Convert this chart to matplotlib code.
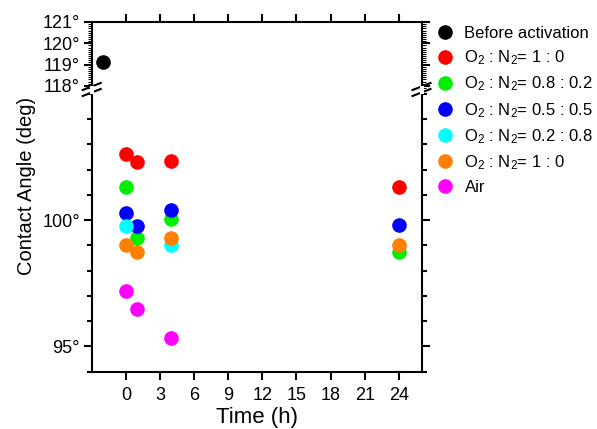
import matplotlib
matplotlib.use('Agg')
import matplotlib.pyplot as plt
from matplotlib.ticker import MultipleLocator, FixedLocator
import numpy as np

plt.rcParams['font.family'] = ['Liberation Sans', 'DejaVu Sans']
plt.rcParams['mathtext.default'] = 'regular'

# data
t_before = [-2]
a_before = [119.1]

series_names = ['O$_2$ : N$_2$= 1 : 0', 'O$_2$ : N$_2$= 0.8 : 0.2', 'O$_2$ : N$_2$= 0.5 : 0.5',
                'O$_2$ : N$_2$= 0.2 : 0.8', 'O$_2$ : N$_2$= 1 : 0', 'Air']
series_colors = ['#ff0000', '#00ee00', '#0000ff', '#00ffff', '#ff8000', '#ff00ff']
t_red = [0, 1, 4, 24]
a_red = [102.6, 102.3, 102.35, 101.3]
t_green = [0, 1, 4, 24]
a_green = [101.3, 99.3, 100.05, 98.75]
t_blue = [0, 1, 4, 24]
a_blue = [100.3, 99.75, 100.4, 99.8]
t_cyan = [0, 4]
a_cyan = [99.75, 99.0]
t_orange = [0, 1, 4, 24]
a_orange = [99.0, 98.75, 99.3, 99.0]
t_air = [0, 1, 4]
a_air = [97.2, 96.5, 95.35]

series_t = [t_red, t_green, t_blue, t_cyan, t_orange, t_air]
series_a = [a_red, a_green, a_blue, a_cyan, a_orange, a_air]

x_ticks = np.arange(0, 25, 3)
top_yticks = [118, 119, 120, 121]
bot_yticks = [95, 100]

W, H = 597, 429
fig = plt.figure(figsize=(W / 100, H / 100), dpi=100)
left = 91.7 / W
width = (421.5 - 91.7) / W
ax_top = fig.add_axes([left, 1 - 88 / H, width, 66 / H])
ax_bot = fig.add_axes([left, 1 - 371.7 / H, width, 281.7 / H])

lw = 1.5
ms = 9.5
deg = lambda v, p: '%d\u00b0' % round(v)
for ax in (ax_top, ax_bot):
    for s in ax.spines.values():
        s.set_linewidth(lw)
    ax.set_xlim(-3, 26)
    ax.set_xticks(x_ticks)
    ax.tick_params(which='both', direction='out', width=lw, labelsize=13)
    ax.tick_params(which='major', length=6)
    ax.tick_params(which='minor', length=3.5)
    ax.tick_params(axis='y', which='both', right=True, labelright=False, pad=2.5)
    ax.tick_params(axis='x', pad=5)

# top panel
ax_top.spines['bottom'].set_visible(False)
ax_top.set_ylim(117.9, 121)
ax_top.yaxis.set_major_locator(FixedLocator(top_yticks))
ax_top.yaxis.set_minor_locator(MultipleLocator(0.1))
ax_top.yaxis.set_major_formatter(deg)
ax_top.tick_params(axis='x', top=True, bottom=False, labelbottom=False)
ax_top.tick_params(axis='y', which='minor', length=3, width=0.75)
h_before, = ax_top.plot(t_before, a_before, 'o', color='black', ms=ms, label='Before activation', clip_on=False)

# bottom panel
ax_bot.spines['top'].set_visible(False)
ax_bot.set_ylim(94, 105.15)
ax_bot.yaxis.set_major_locator(FixedLocator(bot_yticks))
ax_bot.yaxis.set_minor_locator(MultipleLocator(1))
ax_bot.yaxis.set_major_formatter(deg)
ax_bot.tick_params(axis='x', top=False)
handles = [h_before]
for name, col, t, a in zip(series_names, series_colors, series_t, series_a):
    h, = ax_bot.plot(t, a, 'o', color=col, ms=ms, label=name)
    handles.append(h)

ax_bot.set_xlabel('Time (h)', fontsize=16, labelpad=2)
fig.text(27 / W, 1 - 186 / H, 'Contact Angle (deg)', rotation=90, fontsize=14.5,
         ha='center', va='center')

# break marks on both spines
for xs in (91.7, 421.5):
    for yc in (86.5, 92.5):
        fig.add_artist(plt.Line2D([(xs - 9) / W, (xs + 9) / W],
                                  [1 - (yc + 3.5) / H, 1 - (yc - 3.5) / H],
                                  color='black', lw=lw))
    fig.add_artist(plt.Line2D([xs / W, xs / W], [1 - 91.5 / H, 1 - 87.5 / H],
                              color='white', lw=3))

fig.legend(handles=handles, loc='upper left', bbox_to_anchor=(432 / W, 1 - 26 / H),
           frameon=False, fontsize=12, handletextpad=0.45, labelspacing=0.45,
           handlelength=1.5, borderaxespad=0, borderpad=0)

fig.savefig('out.png', dpi=100)
